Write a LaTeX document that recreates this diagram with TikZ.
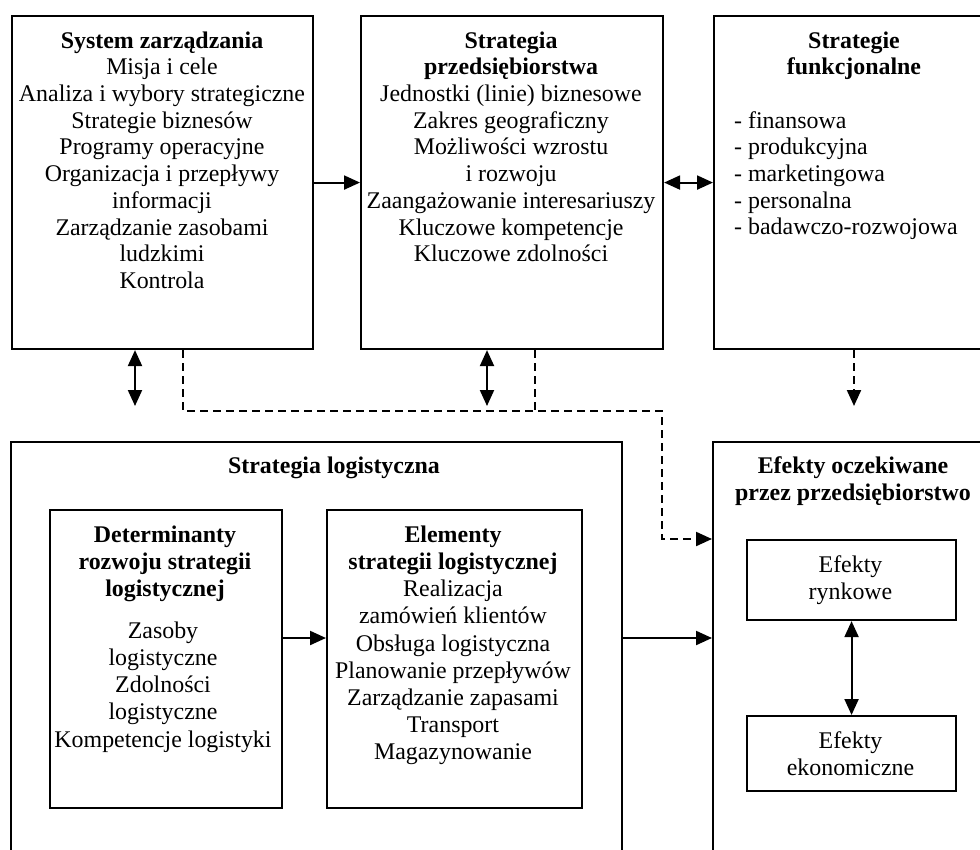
\documentclass[tikz,border=0pt]{standalone}
\usepackage{fontspec}
\setmainfont{Liberation Serif}
\usetikzlibrary{arrows.meta}

\begin{document}
\begin{tikzpicture}[x=1pt,y=-1pt,
  box/.style={draw, line width=2.1pt, inner sep=0pt, anchor=north west},
  upper/.style={font=\fontsize{23.9}{26.7}\selectfont, align=center, inner sep=0pt, anchor=north},
  lower/.style={font=\fontsize{23.9}{27.2}\selectfont, align=center, inner sep=0pt, anchor=north},
  tip/.tip={Triangle[length=16pt,width=14pt]},
  arr/.style={line width=2.1pt, -tip},
  dbl/.style={line width=2.1pt, tip-tip},
  dsh/.style={line width=2.1pt, dash pattern=on 8pt off 5pt},
]
\useasboundingbox (0,0) rectangle (980,849);
\fill[white] (0,0) rectangle (980,849);
\clip (0,0) rectangle (980,849);

% upper row
\node[box, minimum width=301pt, minimum height=333pt] (b1) at (11,15) {};
\node[box, minimum width=302pt, minimum height=333pt] (b2) at (360,15) {};
\node[box, minimum width=300pt, minimum height=333pt] (b3) at (713,15) {};

\node[upper] (t1) at (162,29.3) {\strut\textbf{System zarządzania}\\Misja i cele\\Analiza i wybory strategiczne\\Strategie biznesów\\Programy operacyjne\\Organizacja i przepływy\\informacji\\Zarządzanie zasobami\\ludzkimi\\Kontrola};
\node[upper] (t2) at (511,29.3) {\strut\textbf{Strategia}\\\textbf{przedsiębiorstwa}\\Jednostki (linie) biznesowe\\Zakres geograficzny\\Możliwości wzrostu\\i rozwoju\\Zaangażowanie interesariuszy\\Kluczowe kompetencje\\Kluczowe zdolności};
\node[upper] (t3) at (854,29.3) {\strut\textbf{Strategie}\\\textbf{funkcjonalne}};
\node[upper, anchor=north west, align=left] (t3list) at (734,109.3) {\strut- finansowa\\- produkcyjna\\- marketingowa\\- personalna\\- badawczo-rozwojowa};

% lower row
\node[box, minimum width=611pt, minimum height=440pt] (logi) at (10,441) {};
\node[box, minimum width=300pt, minimum height=440pt] (eff) at (712,441) {};
\node[box, minimum width=232pt, minimum height=298pt] (det) at (49,509) {};
\node[box, minimum width=255pt, minimum height=298pt] (el) at (326,509) {};
\node[box, minimum width=209pt, minimum height=80pt] (ryn) at (746,539) {};
\node[box, minimum width=209pt, minimum height=75pt] (eko) at (746,715) {};

\node[lower] (tlogi) at (334,454) {\strut\textbf{Strategia logistyczna}};
\node[lower] (tdet) at (165,523) {\strut\textbf{Determinanty}\\\textbf{rozwoju strategii}\\\textbf{logistycznej}};
\node[lower] (tdetb) at (163,619) {\strut Zasoby\\logistyczne\\Zdolności\\logistyczne\\Kompetencje logistyki};
\node[lower] (tel) at (453,523) {\strut\textbf{Elementy}\\\textbf{strategii logistycznej}\\Realizacja\\zamówień klientów\\Obsługa logistyczna\\Planowanie przepływów\\Zarządzanie zapasami\\Transport\\Magazynowanie};
\node[lower] (teff) at (853,454) {\strut\textbf{Efekty oczekiwane}\\\textbf{przez przedsiębiorstwo}};
\node[lower] (tryn) at (850.5,553) {\strut Efekty\\rynkowe};
\node[lower] (teko) at (850.5,729) {\strut Efekty\\ekonomiczne};

% connectors
\draw[arr] (b1.east) -- (b2.west);
\draw[dbl] (b2.east) -- (b3.west);

\coordinate (d1) at (135,406);
\coordinate (d2) at (487,406);
\coordinate (d3) at (854,406);
\draw[dbl] (b1.south -| d1) -- (d1);
\draw[dbl] (b2.south -| d2) -- (d2);
\draw[dsh, -tip] (b3.south -| d3) -- (d3);

\coordinate (k1) at (183,411);
\coordinate (k2) at (662,411);
\coordinate (k3) at (662,539);
\coordinate (k4) at (535,411);
\draw[dsh, -tip] (b1.south -| k1) -- (k1) -- (k2) -- (k3) -- (eff.west |- k3);
\draw[dsh] (b2.south -| k4) -- (k4);

\coordinate (ya) at (0,638);
\draw[arr] (det.east |- ya) -- (el.west |- ya);
\draw[arr] (logi.east |- ya) -- (eff.west |- ya);
\draw[dbl] (ryn.south) -- (eko.north);
\end{tikzpicture}
\end{document}
